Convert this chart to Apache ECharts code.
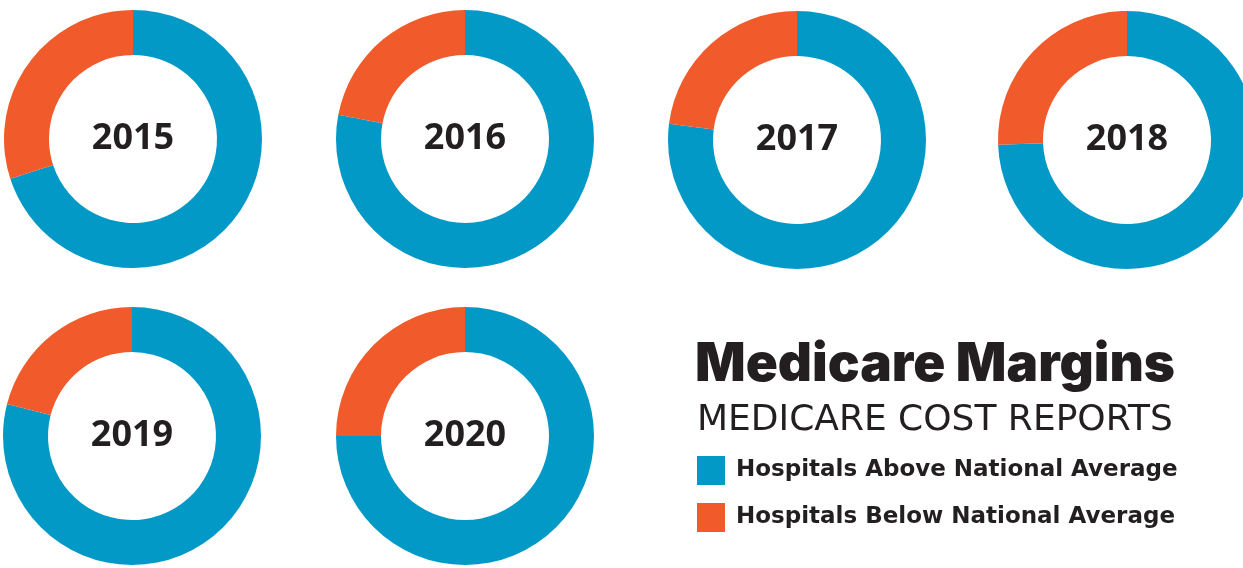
<!DOCTYPE html>
<html>
<head>
<meta charset="utf-8">
<title>Medicare Margins</title>
<script src="https://cdn.jsdelivr.net/npm/echarts@6/dist/echarts.min.js"></script>
<style>
    html, body { margin: 0; padding: 0; background: #fff; }
    #chart { width: 1243px; height: 568px; }
</style>
</head>
<body>
<div id="chart"></div>
<script>
// share of hospitals, percent
var years = ['2015', '2016', '2017', '2018', '2019', '2020'];
var aboveAvg = [70, 78, 77, 74.4, 79, 75];
var belowAvg = [30, 22, 23, 25.6, 21, 25];
var legendNames = ['Hospitals Above National Average', 'Hospitals Below National Average'];

var blue = '#0399c6';
var orange = '#f15a2a';
var ink = '#231f20';

// donut layout (pixels)
var centers = [[133, 139], [465, 139], [797, 140], [1127, 140], [132, 436], [465, 436]];

var chart = echarts.init(document.getElementById('chart'));

var series = [];
for (var i = 0; i < years.length; i++) {
    series.push({
        type: 'pie',
        name: years[i],
        center: centers[i],
        radius: [84, 129],
        startAngle: 90,
        clockwise: true,
        silent: true,
        animation: false,
        emphasis: { disabled: true },
        labelLine: { show: false },
        label: { show: false },
        itemStyle: { borderWidth: 0 },
        data: [
            {
                name: legendNames[0],
                value: aboveAvg[i],
                itemStyle: { color: blue },
                label: {
                    show: true,
                    position: 'center',
                    formatter: years[i],
                    color: ink,
                    fontFamily: 'Open Sans',
                    fontWeight: 'bold',
                    fontSize: 36,
                    padding: [3, 0, 0, 0]
                }
            },
            {
                name: legendNames[1],
                value: belowAvg[i],
                itemStyle: { color: orange }
            }
        ]
    });
}

var option = {
    backgroundColor: '#fff',
    animation: false,
    title: [
        {
            text: 'Medicare Margins',
            left: 695,
            top: 339,
            padding: 0,
            textStyle: { fontFamily: 'Inter', fontWeight: 900, fontSize: 53, color: ink }
        },
        {
            text: 'MEDICARE COST REPORTS',
            left: 697,
            top: 403,
            padding: 0,
            textStyle: { fontFamily: 'DejaVu Sans', fontWeight: 'normal', fontSize: 36, color: ink }
        }
    ],
    legend: {
        data: legendNames,
        orient: 'vertical',
        left: 697,
        top: 456,
        padding: 0,
        icon: 'rect',
        itemWidth: 28,
        itemHeight: 29,
        itemGap: 18,
        selectedMode: false,
        textStyle: {
            fontFamily: 'DejaVu Sans',
            fontWeight: 'bold',
            fontSize: 23,
            color: ink,
            padding: [6, 0, 0, 6]
        }
    },
    series: series
};

chart.setOption(option);
</script>
</body>
</html>
